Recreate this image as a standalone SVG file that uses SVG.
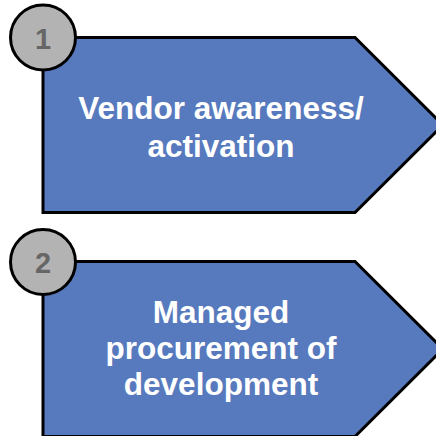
<svg xmlns="http://www.w3.org/2000/svg" width="436" height="436" viewBox="0 0 436 436">
  <style>
    .step { fill: #5779bd; stroke: #000; stroke-width: 3; stroke-linejoin: miter; }
    .badge { fill: #b3b3b3; stroke: #000; stroke-width: 3; }
    .num { font-family: "Liberation Sans", Arial, sans-serif; font-weight: bold; font-size: 29px; fill: #666; text-anchor: middle; }
    .label { font-family: "Liberation Sans", Arial, sans-serif; font-weight: bold; font-size: 31.5px; fill: #fff; text-anchor: middle; }
  </style>
  <rect width="436" height="436" fill="#fff"/>
  <g id="node-1">
    <path class="step" d="M43,37.5 H355 L443,125 L355,212.5 H43 Z"/>
    <circle class="badge" cx="43" cy="37.5" r="32.5"/>
    <text class="num" x="43" y="49">1</text>
    <text class="label" x="221" y="119">Vendor awareness/</text>
    <text class="label" x="221" y="157">activation</text>
  </g>
  <g id="node-2">
    <path class="step" d="M43,261.5 H355 L443,349 L355,436.5 H43 Z"/>
    <circle class="badge" cx="43" cy="262" r="32.5"/>
    <text class="num" x="43" y="273">2</text>
    <text class="label" x="221" y="323">Managed</text>
    <text class="label" x="221" y="359">procurement of</text>
    <text class="label" x="221" y="395">development</text>
  </g>
  <g id="connectors"/>
</svg>
